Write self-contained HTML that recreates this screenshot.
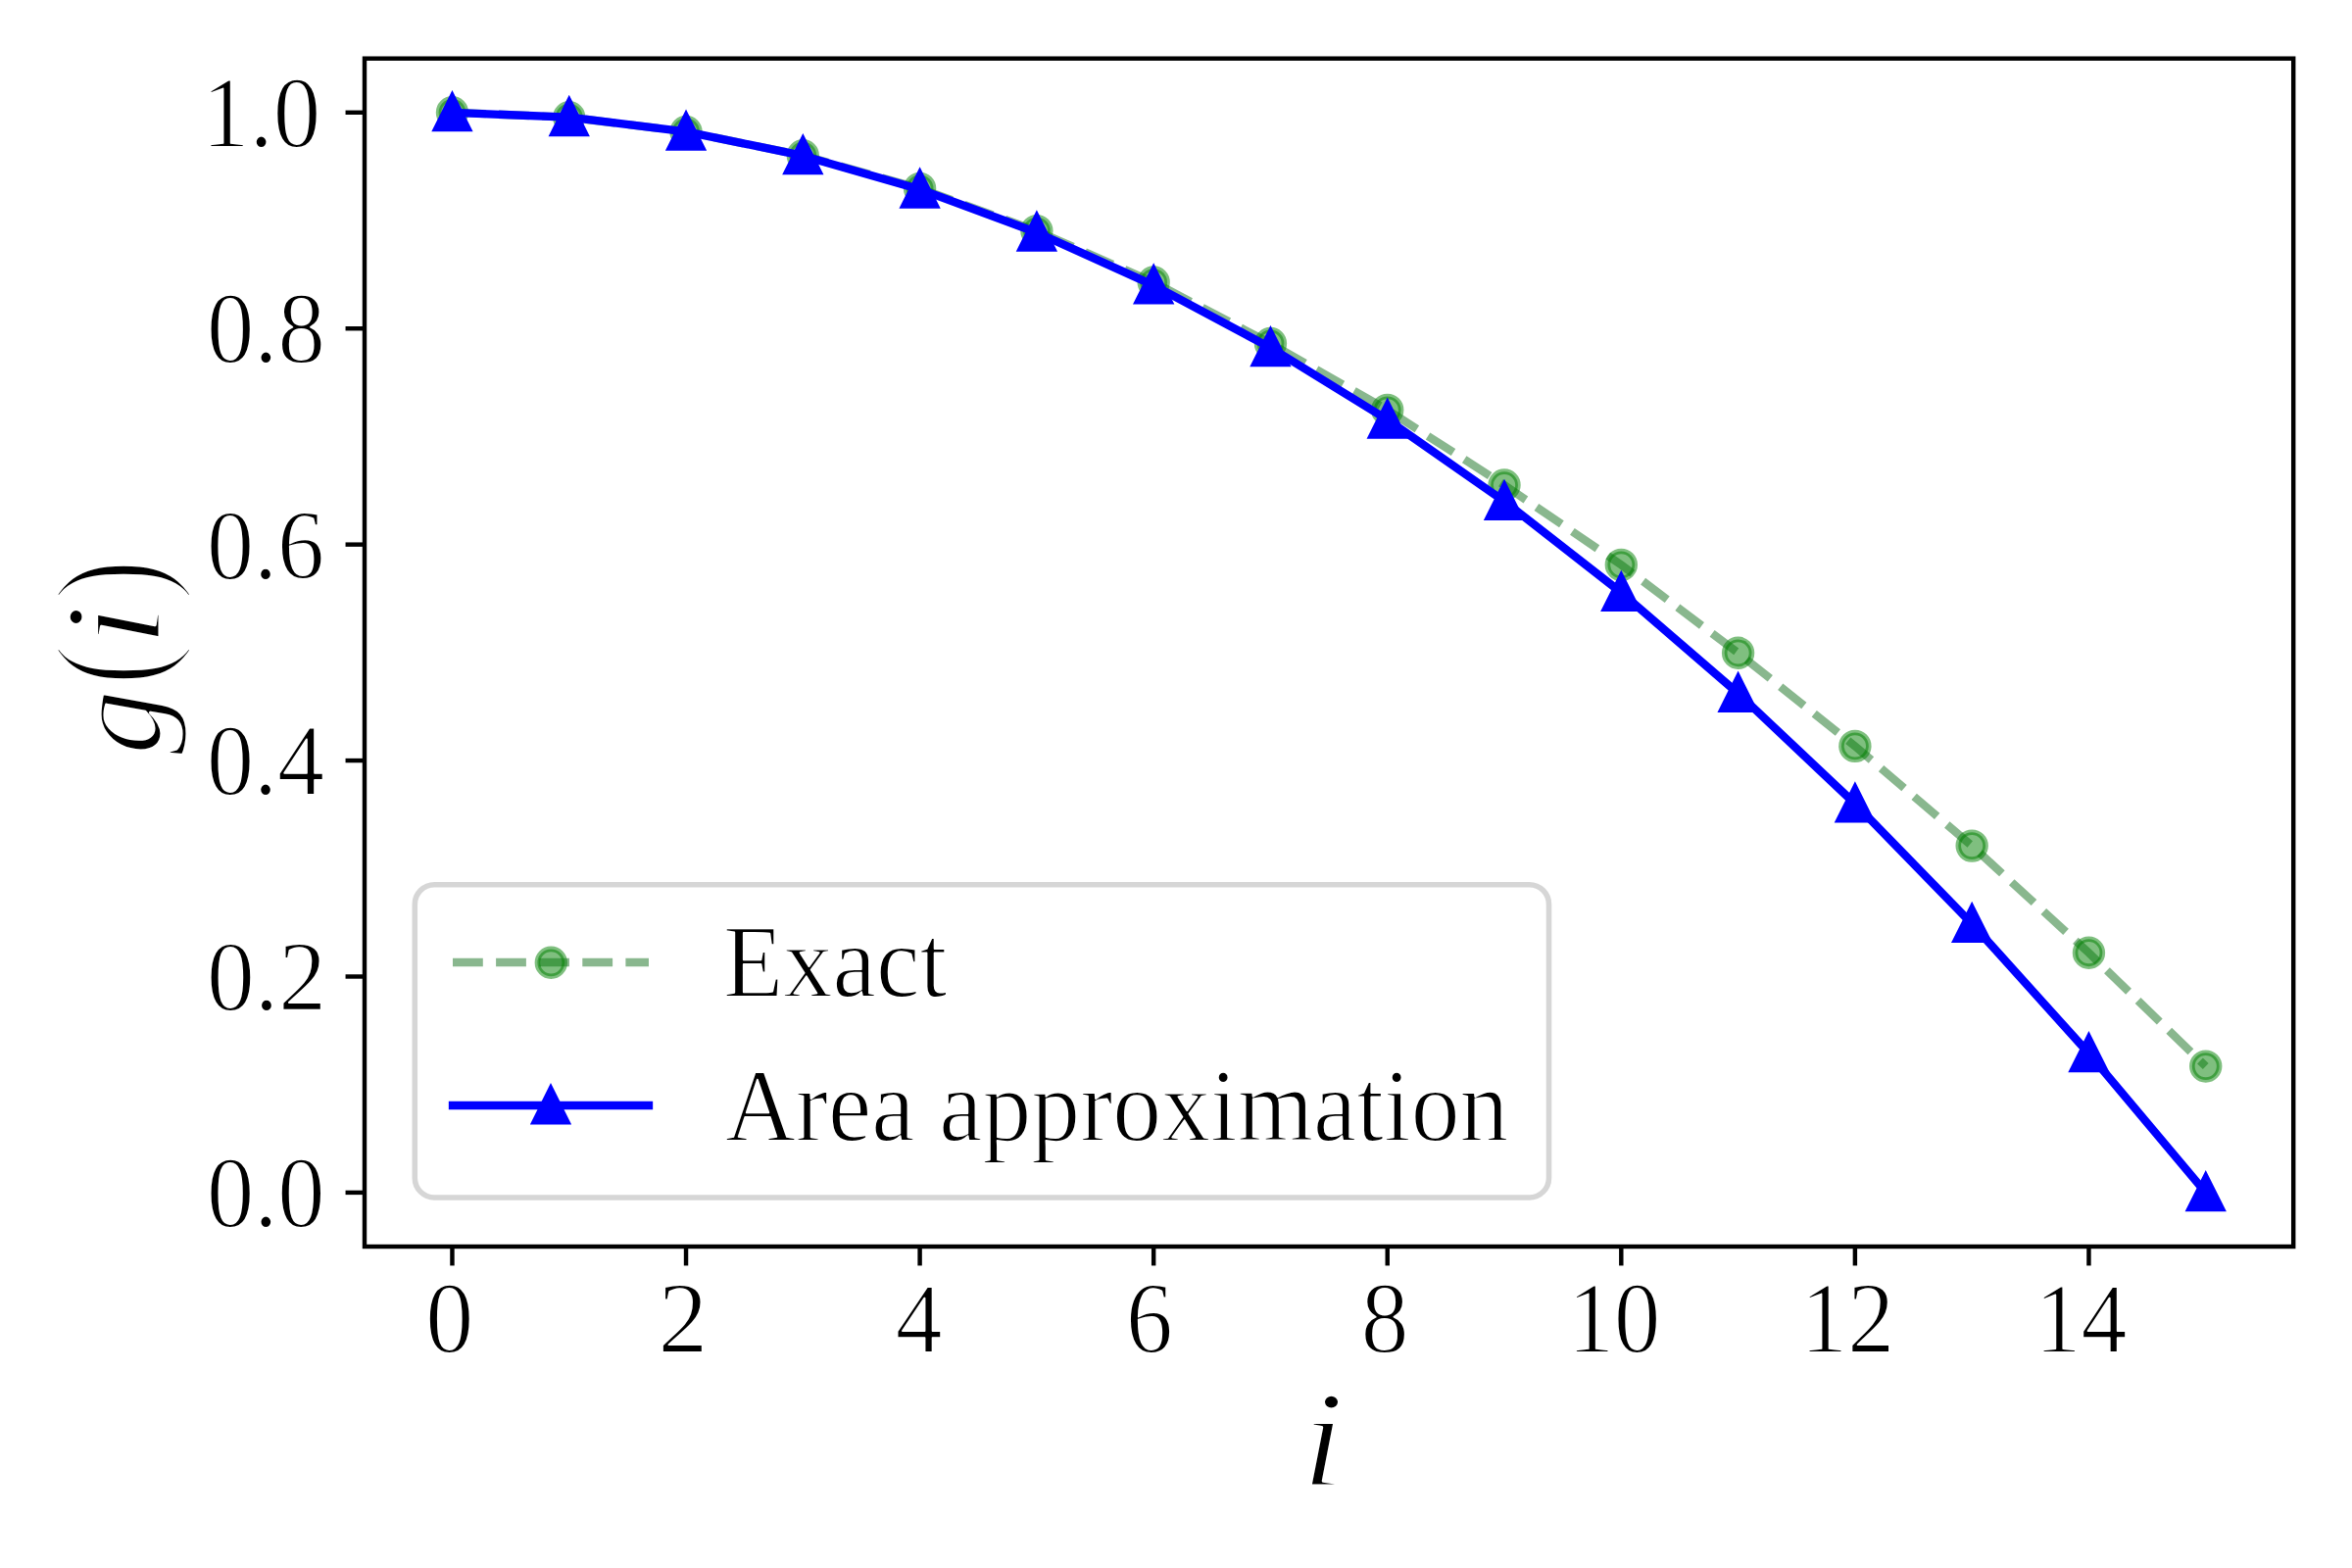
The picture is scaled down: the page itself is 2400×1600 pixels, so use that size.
<!DOCTYPE html>
<html lang="en"><head><meta charset="utf-8"><title>g(i): Exact vs Area approximation</title>
<style>html,body{margin:0;padding:0;background:#fff}svg{display:block}text{font-family:"Liberation Serif",serif;fill:#000;stroke:#fff;stroke-linejoin:round}</style></head><body>
<svg width="2400" height="1600" viewBox="0 0 2400 1600">
<rect x="0" y="0" width="2400" height="1600" fill="#fff"/>
<g stroke="#000" stroke-width="4.44" fill="none">
<line x1="461.46" y1="1272.00" x2="461.46" y2="1291.44"/>
<line x1="700.03" y1="1272.00" x2="700.03" y2="1291.44"/>
<line x1="938.60" y1="1272.00" x2="938.60" y2="1291.44"/>
<line x1="1177.17" y1="1272.00" x2="1177.17" y2="1291.44"/>
<line x1="1415.74" y1="1272.00" x2="1415.74" y2="1291.44"/>
<line x1="1654.31" y1="1272.00" x2="1654.31" y2="1291.44"/>
<line x1="1892.88" y1="1272.00" x2="1892.88" y2="1291.44"/>
<line x1="2131.45" y1="1272.00" x2="2131.45" y2="1291.44"/>
<line x1="372.00" y1="1216.90" x2="352.56" y2="1216.90"/>
<line x1="372.00" y1="996.48" x2="352.56" y2="996.48"/>
<line x1="372.00" y1="776.06" x2="352.56" y2="776.06"/>
<line x1="372.00" y1="555.64" x2="352.56" y2="555.64"/>
<line x1="372.00" y1="335.22" x2="352.56" y2="335.22"/>
<line x1="372.00" y1="114.80" x2="352.56" y2="114.80"/>
</g>
<text transform="translate(434.17 1380.10) scale(0.9556 1)" font-size="102.66666666666667" stroke-width="1.8">0</text>
<text transform="translate(671.42 1380.10) scale(0.9910 1)" font-size="102.66666666666667" stroke-width="1.8">2</text>
<text transform="translate(913.79 1380.10) scale(0.9320 1)" font-size="102.66666666666667" stroke-width="1.8">4</text>
<text transform="translate(1149.09 1380.10) scale(0.9307 1)" font-size="102.66666666666667" stroke-width="1.8">6</text>
<text transform="translate(1388.80 1380.10) scale(0.9488 1)" font-size="102.66666666666667" stroke-width="1.8">8</text>
<text transform="translate(1599.67 1380.10) scale(0.9216 1)" font-size="102.66666666666667" stroke-width="1.8">10</text>
<text transform="translate(1837.37 1380.10) scale(0.9331 1)" font-size="102.66666666666667" stroke-width="1.8">12</text>
<text transform="translate(2076.53 1380.10) scale(0.9153 1)" font-size="102.66666666666667" stroke-width="1.8">14</text>
<text transform="translate(210.93 1251.80) scale(0.9408 1)" font-size="102.66666666666667" stroke-width="1.8">0.0</text>
<text transform="translate(210.89 1031.38) scale(0.9513 1)" font-size="102.66666666666667" stroke-width="1.8">0.2</text>
<text transform="translate(210.94 810.96) scale(0.9374 1)" font-size="102.66666666666667" stroke-width="1.8">0.4</text>
<text transform="translate(210.95 590.54) scale(0.9361 1)" font-size="102.66666666666667" stroke-width="1.8">0.6</text>
<text transform="translate(210.92 370.12) scale(0.9425 1)" font-size="102.66666666666667" stroke-width="1.8">0.8</text>
<text transform="translate(206.07 149.70) scale(0.9446 1)" font-size="102.66666666666667" stroke-width="1.8">1.0</text>
<text transform="translate(1328.15 1516.30) scale(1.1200 1)" font-size="138.93172205438066" stroke-width="3.0" font-style="italic">i</text>
<text transform="translate(161.6 0) rotate(-90)"><tspan x="-770.53" y="1.50" font-size="129.9" textLength="66.91" lengthAdjust="spacingAndGlyphs" stroke-width="3.0" font-style="italic">g</tspan><tspan x="-699.88" y="2.50" font-size="157.5" textLength="43.02" lengthAdjust="spacingAndGlyphs" stroke-width="5.0">(</tspan><tspan x="-659.85" y="1.50" font-size="138.9" textLength="43.23" lengthAdjust="spacingAndGlyphs" stroke-width="3.0" font-style="italic">i</tspan><tspan x="-612.93" y="2.50" font-size="157.5" textLength="43.02" lengthAdjust="spacingAndGlyphs" stroke-width="5.0">)</tspan></text>
<polyline points="461.46,114.80 580.75,119.70 700.03,134.42 819.32,158.67 938.60,192.39 1057.89,235.59 1177.17,288.05 1296.46,350.43 1415.74,418.32 1535.03,495.03 1654.31,576.36 1773.60,666.29 1892.88,761.40 2012.17,863.12 2131.45,972.23 2250.74,1088.06" fill="none" stroke="#14701e" stroke-opacity="0.5" stroke-width="8.33" stroke-dasharray="30.83 13.33" stroke-dashoffset="-3.6"/>
<g fill="#008000" fill-opacity="0.5" stroke="#008000" stroke-opacity="0.5" stroke-width="5.56">
<circle cx="461.46" cy="114.80" r="13.9"/>
<circle cx="580.75" cy="119.70" r="13.9"/>
<circle cx="700.03" cy="134.42" r="13.9"/>
<circle cx="819.32" cy="158.67" r="13.9"/>
<circle cx="938.60" cy="192.39" r="13.9"/>
<circle cx="1057.89" cy="235.59" r="13.9"/>
<circle cx="1177.17" cy="288.05" r="13.9"/>
<circle cx="1296.46" cy="350.43" r="13.9"/>
<circle cx="1415.74" cy="418.32" r="13.9"/>
<circle cx="1535.03" cy="495.03" r="13.9"/>
<circle cx="1654.31" cy="576.36" r="13.9"/>
<circle cx="1773.60" cy="666.29" r="13.9"/>
<circle cx="1892.88" cy="761.40" r="13.9"/>
<circle cx="2012.17" cy="863.12" r="13.9"/>
<circle cx="2131.45" cy="972.23" r="13.9"/>
<circle cx="2250.74" cy="1088.06" r="13.9"/>
</g>
<polyline points="461.46,114.80 580.75,119.70 700.03,134.40 819.32,158.89 938.60,193.18 1057.89,237.26 1177.17,291.14 1296.46,354.82 1415.74,428.29 1535.03,511.56 1654.31,604.62 1773.60,707.48 1892.88,820.14 2012.17,942.60 2131.45,1074.85 2250.74,1216.90" fill="none" stroke="#0000ff" stroke-width="8.33" stroke-linejoin="round" stroke-linecap="square"/>
<g fill="#0000ff" stroke="#0000ff" stroke-width="5.56" stroke-linejoin="miter" stroke-miterlimit="10">
<polygon points="461.46,98.13 444.79,131.47 478.13,131.47"/>
<polygon points="580.75,103.03 564.08,136.37 597.42,136.37"/>
<polygon points="700.03,117.73 683.36,151.07 716.70,151.07"/>
<polygon points="819.32,142.22 802.65,175.56 835.99,175.56"/>
<polygon points="938.60,176.51 921.93,209.85 955.27,209.85"/>
<polygon points="1057.89,220.59 1041.22,253.93 1074.56,253.93"/>
<polygon points="1177.17,274.47 1160.50,307.81 1193.84,307.81"/>
<polygon points="1296.46,338.15 1279.79,371.49 1313.13,371.49"/>
<polygon points="1415.74,411.62 1399.07,444.96 1432.41,444.96"/>
<polygon points="1535.03,494.89 1518.36,528.23 1551.70,528.23"/>
<polygon points="1654.31,587.95 1637.64,621.29 1670.98,621.29"/>
<polygon points="1773.60,690.81 1756.93,724.15 1790.27,724.15"/>
<polygon points="1892.88,803.47 1876.21,836.81 1909.55,836.81"/>
<polygon points="2012.17,925.93 1995.50,959.27 2028.84,959.27"/>
<polygon points="2131.45,1058.18 2114.78,1091.52 2148.12,1091.52"/>
<polygon points="2250.74,1200.23 2234.07,1233.57 2267.41,1233.57"/>
</g>
<rect x="372.00" y="59.70" width="1968.20" height="1212.30" fill="none" stroke="#000" stroke-width="4.44" stroke-linejoin="miter"/>
<rect x="423.3" y="902.7" width="1157.2" height="319.3" rx="20" ry="20" fill="#fff" fill-opacity="0.8" stroke="#cccccc" stroke-opacity="0.8" stroke-width="5.56"/>
<line x1="462" y1="982" x2="662" y2="982" stroke="#14701e" stroke-opacity="0.5" stroke-width="8.33" stroke-dasharray="30.8 13.3"/>
<circle cx="562.3" cy="982.3" r="13.9" fill="#008000" fill-opacity="0.5" stroke="#008000" stroke-opacity="0.5" stroke-width="5.56"/>
<line x1="462" y1="1128" x2="662" y2="1128" stroke="#0000ff" stroke-width="8.33" stroke-linecap="square"/>
<g fill="#0000ff" stroke="#0000ff" stroke-width="5.56" stroke-linejoin="miter" stroke-miterlimit="10"><polygon points="562.00,1111.33 545.33,1144.67 578.67,1144.67"/></g>
<text transform="translate(737.99 1017.10) scale(0.9512 1)" font-size="105.5" stroke-width="1.8">Exact</text>
<text transform="translate(739.90 1163.60) scale(0.9443 1)" font-size="105.5" stroke-width="1.8">Area approximation</text>
</svg></body></html>
